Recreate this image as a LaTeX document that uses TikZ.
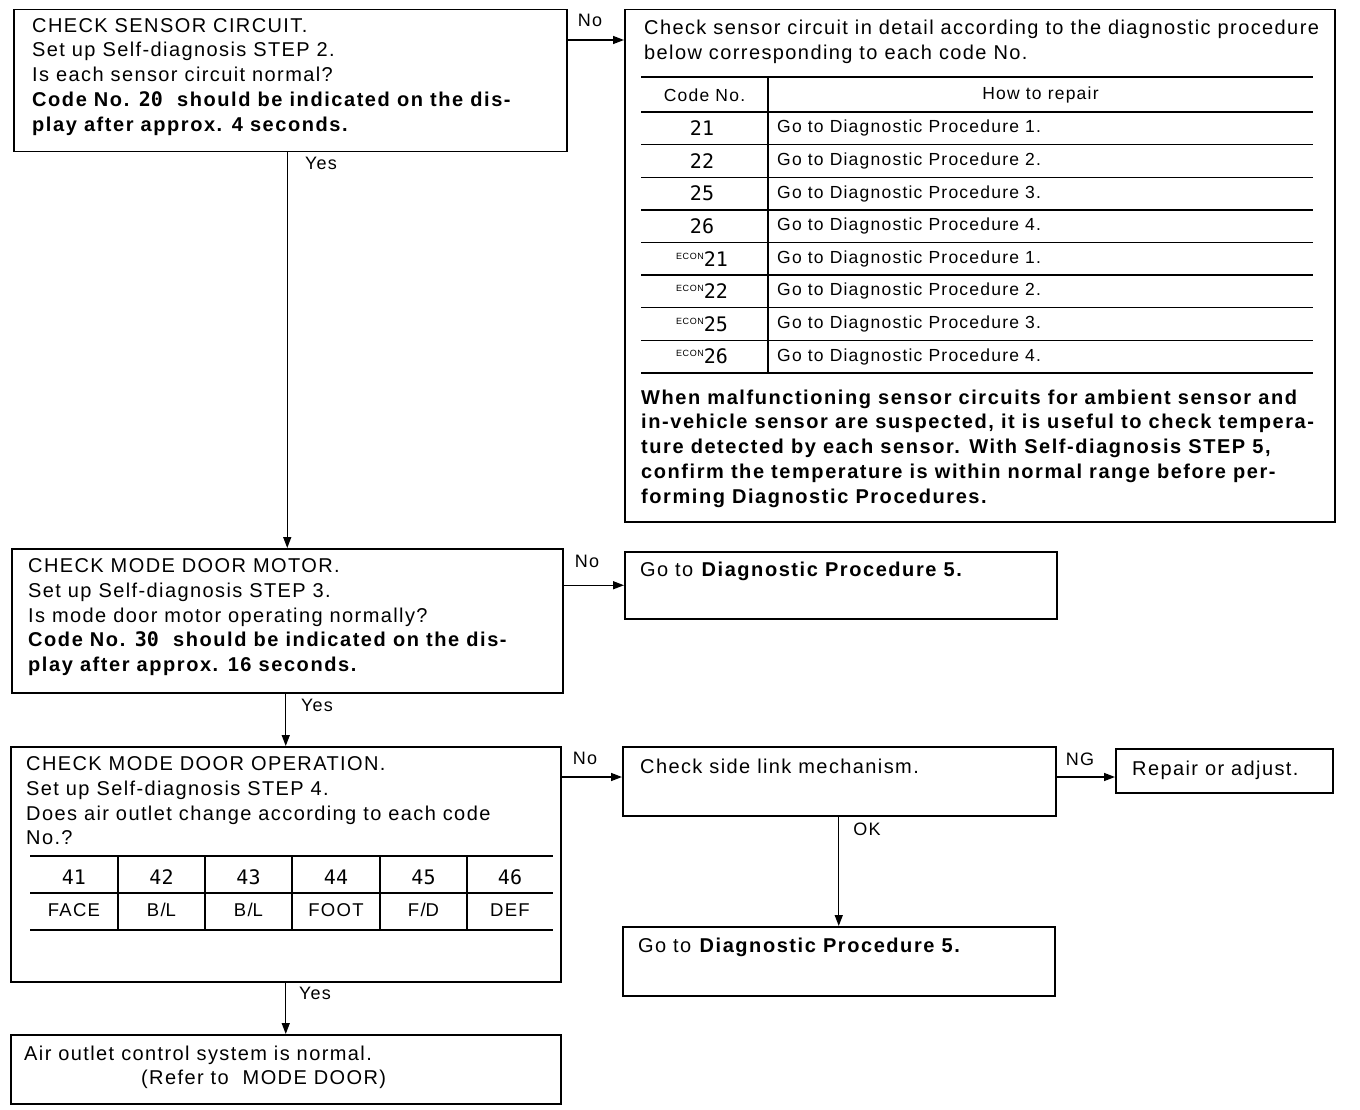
\documentclass[tikz,border=0pt]{standalone}
\usepackage{fontspec}
\setmainfont{Liberation Sans}[LetterSpace=7, BoldFeatures={LetterSpace=7.8}]
\newfontfamily\segfont{DejaVu Sans Mono}
\usetikzlibrary{arrows.meta}
\newcommand{\seg}[1]{{\segfont\fontsize{20}{20}\selectfont #1}}
\newcommand{\econ}{\raisebox{7pt}{\fontsize{9}{9}\selectfont ECON}}
\begin{document}
\begin{tikzpicture}[x=1pt,y=-1pt,
  box/.style={draw, line width=1.5pt, inner sep=0pt, anchor=north west},
  txt/.style={anchor=north west, inner sep=0pt, align=left, font=\fontsize{20}{24.75}\selectfont},
  tbl/.style={inner sep=0pt, font=\fontsize{17.5}{18}\selectfont},
  lbl/.style={inner sep=0pt, font=\fontsize{18}{19}\selectfont},
  arr/.style={-{Triangle[length=11pt,width=8pt]}, line width=1.4pt},
  thick rule/.style={line width=2.8pt},
  thin rule/.style={line width=1.3pt}]
\useasboundingbox (0,0) rectangle (1360,1110);
\fill[white] (0,0) rectangle (1360,1110);

% boxes
\node[box, minimum width=553pt, minimum height=142pt] (b1) at (13,9) {};
\node[box, minimum width=710pt, minimum height=512pt] (b2) at (624,9) {};
\node[box, minimum width=551pt, minimum height=144pt] (b3) at (11,548) {};
\node[box, minimum width=432pt, minimum height=67pt] (b4) at (624,551) {};
\node[box, minimum width=550pt, minimum height=235pt] (b5) at (10,746) {};
\node[box, minimum width=433pt, minimum height=69pt] (b6) at (622,746) {};
\node[box, minimum width=217pt, minimum height=44pt] (b7) at (1115,748) {};
\node[box, minimum width=432pt, minimum height=69pt] (b8) at (622,926) {};
\node[box, minimum width=550pt, minimum height=69pt] (b9) at (10,1034) {};

% box texts
\node[txt] (t1) at (32,18) {CHECK SENSOR CIRCUIT.\\Set up Self-diagnosis STEP 2.\\Is each sensor circuit normal?\\
\textbf{Code No. \seg{20}\ \ should be indicated on the dis-}\\\textbf{play after approx. 4 seconds.}};

\node[txt] (t2) at (644,20) {Check sensor circuit in detail according to the diagnostic procedure\\below corresponding to each code No.};

% sensor table
\draw[thick rule] (641,77) -- (1313,77);
\draw[thin rule] (641,112) -- (1313,112);
\foreach \i in {1,...,7} { \draw[thin rule] (641,{112+32.625*\i}) -- (1313,{112+32.625*\i}); }
\draw[thick rule] (641,373) -- (1313,373);
\draw[thin rule] (768,77) -- (768,373);
\node[tbl] (h1) at (704.5,95) {Code No.};
\node[tbl] (h2) at (1040.5,95) {How to repair};
\foreach \c/\p [count=\i] in {{\seg{21}}/1,{\seg{22}}/2,{\seg{25}}/3,{\seg{26}}/4,{\econ\seg{21}}/1,{\econ\seg{22}}/2,{\econ\seg{25}}/3,{\econ\seg{26}}/4} {
  \node[tbl] (c\i) at (702,{112+32.625*(\i-0.5)}) {\c};
  \node[tbl, anchor=west] (r\i) at (777,{112+32.625*(\i-0.5)}) {Go to Diagnostic Procedure \p.};
}

\node[txt, font=\bfseries\fontsize{20}{24.75}\selectfont] (t2b) at (641,389.5) {When malfunctioning sensor circuits for ambient sensor and\\in-vehicle sensor are suspected, it is useful to check tempera-\\ture detected by each sensor. With Self-diagnosis STEP 5,\\confirm the temperature is within normal range before per-\\forming Diagnostic Procedures.};

\node[txt] (t3) at (28,558.5) {CHECK MODE DOOR MOTOR.\\Set up Self-diagnosis STEP 3.\\Is mode door motor operating normally?\\
\textbf{Code No. \seg{30}\ \ should be indicated on the dis-}\\\textbf{play after approx. 16 seconds.}};

\node[txt] (t4) at (640,561.5) {Go to \textbf{Diagnostic Procedure 5.}};

\node[txt] (t5) at (26,756.5) {CHECK MODE DOOR OPERATION.\\Set up Self-diagnosis STEP 4.\\Does air outlet change according to each code\\No.?};

% mode table
\draw[thick rule] (30,856) -- (553,856);
\draw[thin rule] (30,893) -- (553,893);
\draw[thick rule] (30,930) -- (553,930);
\foreach \x in {118,205,292,380,467} { \draw[thin rule] (\x,856) -- (\x,930); }
\foreach \cx/\cd/\lb [count=\i] in {74/41/FACE,161.5/42/B\slash L,248.5/43/B\slash L,336/44/FOOT,423.5/45/F\slash D,510/46/DEF} {
  \node[tbl] (m\i) at (\cx,877) {\seg{\cd}};
  \node[tbl, font=\fontsize{18.5}{19}\selectfont] (n\i) at (\cx,910) {\lb};
}

\node[txt] (t6) at (640,758.5) {Check side link mechanism.};
\node[txt] (t7) at (1132,760.5) {Repair or adjust.};
\node[txt] (t8) at (638,937.5) {Go to \textbf{Diagnostic Procedure 5.}};
\node[txt] (t9) at (24,1045.5) {Air outlet control system is normal.\\\hspace*{117pt}(Refer to\ \ MODE DOOR)};

% connectors
\draw[arr] ([yshift=-31pt]b1.north east) -- ([yshift=-31pt]b2.north west);
\draw[arr] (b3.north |- b1.south) -- (b3.north);
\draw[arr] (b4.west -| b3.east) -- (b4.west);
\draw[arr] (b5.north |- b3.south) -- (b5.north);
\draw[arr] ([yshift=-31pt]b5.north east) -- ([yshift=-31pt]b6.north west);
\draw[arr] ([yshift=-31pt]b6.north east) -- ([yshift=-31pt]b6.north east -| b7.west);
\draw[arr] (b8.north |- b6.south) -- (b8.north);
\draw[arr] (b9.north |- b5.south) -- (b9.north);

% labels
\node[lbl] (l1) at (590,20) {No};
\node[lbl] (l2) at (321,163) {Yes};
\node[lbl] (l3) at (587,561) {No};
\node[lbl] (l4) at (317,705) {Yes};
\node[lbl] (l5) at (585,758) {No};
\node[lbl] (l6) at (1080,759) {NG};
\node[lbl] (l7) at (867,829) {OK};
\node[lbl] (l8) at (315,993) {Yes};
\end{tikzpicture}
\end{document}
